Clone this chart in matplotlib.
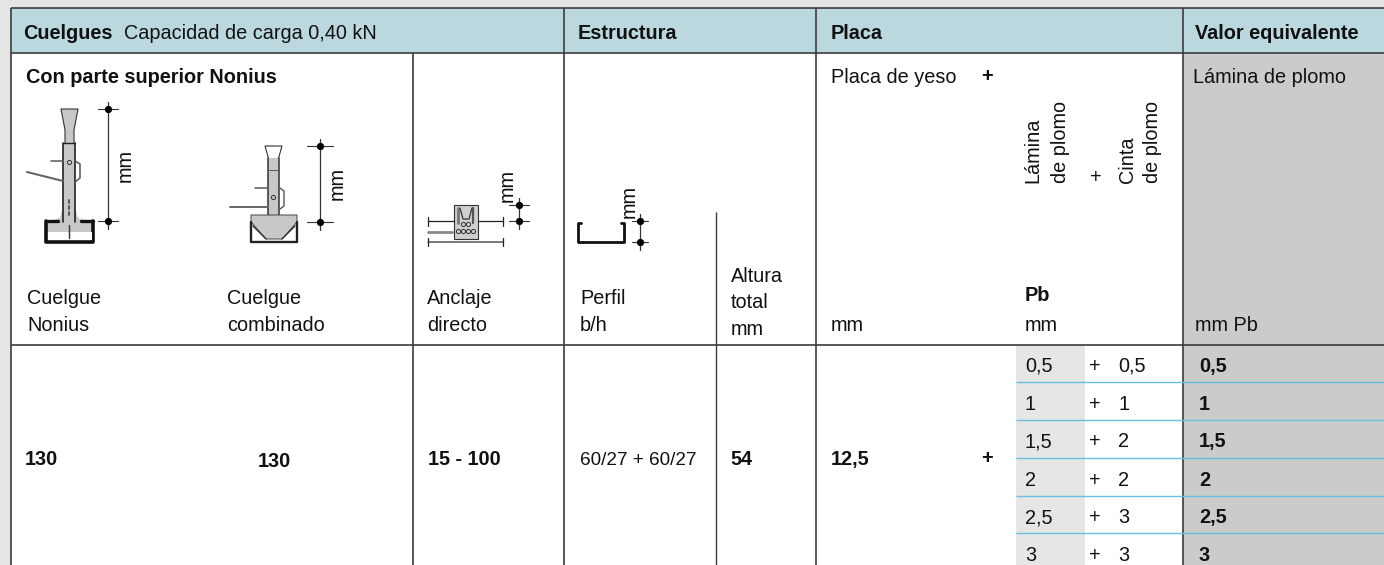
import matplotlib
matplotlib.use("Agg")
from matplotlib import pyplot as plt
from matplotlib.patches import Polygon, Rectangle

plt.rcParams['font.family'] = ['Liberation Sans', 'DejaVu Sans']

lamina = ["0,5", "1", "1,5", "2", "2,5", "3"]
cinta = ["0,5", "1", "2", "2", "3", "3"]
equivalente = ["0,5", "1", "1,5", "2", "2,5", "3"]
headers = ["Estructura", "Placa", "Valor equivalente"]
row_values = ["130", "130", "15 - 100", "60/27 + 60/27", "54", "12,5"]

LINE = "#3c3c3c"
FS = 14.3

fig = plt.figure(figsize=(13.84, 5.65), dpi=100, facecolor="#e5e5e5")
ax = fig.add_axes([0, 0, 1, 1])
ax.set_xlim(0, 1384)
ax.set_ylim(565, 0)
ax.axis("off")


def rect(x0, y0, x1, y1, color, z=1):
    ax.add_patch(Rectangle((x0, y0), x1 - x0, y1 - y0, fc=color, ec="none", zorder=z))


def hline(y, x0, x1, color=LINE, lw=1.2):
    ax.plot([x0, x1], [y, y], color=color, lw=lw, zorder=3, solid_capstyle="butt")


def vline(x, y0, y1, color=LINE, lw=1.2):
    ax.plot([x, x], [y0, y1], color=color, lw=lw, zorder=3, solid_capstyle="butt")


def txt(x, y, s, bold=False, rot=0, size=FS, **kw):
    kw.setdefault("ha", "left")
    kw.setdefault("va", "baseline")
    ax.text(x, y, s, fontweight="bold" if bold else "normal", rotation=rot, fontsize=size,
            color="#111111", zorder=5, **kw)


def line(xs, ys, lw=1.0, color="#222222", z=4):
    ax.plot(xs, ys, color=color, lw=lw, zorder=z, solid_capstyle="round")


def dim(x, y0, y1, tick=10):
    # cota vertical con dos puntos
    line([x, x], [y0 - 7, y1 + 8], 0.9, "#333333")
    for y in (y0, y1):
        line([x - tick, x + tick], [y, y], 0.8, "#333333")
        ax.plot([x], [y], "o", ms=4.2, color="black", zorder=5)


def holes(xs, y, ms=3.0):
    ax.plot(xs, [y] * len(xs), "o", ms=ms, mfc="none", mec="#333333", mew=0.7, zorder=5)


# fondos
rect(11, 8, 1384, 565, "white")
rect(11, 8, 1384, 53, "#bcd8df")
rect(1183, 53, 1384, 565, "#cbcbcb")
rect(1016, 345, 1085, 565, "#e6e6e6")

# lineas
hline(8, 11, 1384)
hline(53, 11, 1384)
hline(345, 11, 1384)
vline(11, 8, 565)
for x in (564, 816, 1183):
    vline(x, 8, 565)
vline(413, 53, 565)
vline(716, 212, 565, lw=1.0)
for y in (382, 420, 458, 496, 533):
    hline(y, 1016, 1384, "#66c2dc", 1.0)

# cabecera
txt(23, 39, "Cuelgues", bold=True)
txt(124, 39, "Capacidad de carga 0,40 kN")
txt(578, 39, headers[0], bold=True)
txt(831, 39, headers[1], bold=True)
txt(1195, 39, headers[2], bold=True)

txt(26, 83, "Con parte superior Nonius", bold=True)
txt(831, 83, "Placa de yeso")
txt(987, 82, "+", bold=True, ha="center")
txt(1193, 83, "Lámina de plomo")

# textos verticales
txt(1033, 183, "Lámina", rot=90, ha="center", va="bottom")
txt(1060, 183, "de plomo", rot=90, ha="center", va="bottom")
txt(1096, 183, "+", ha="center")
txt(1127, 183, "Cinta", rot=90, ha="center", va="bottom")
txt(1153, 183, "de plomo", rot=90, ha="center", va="bottom")
txt(125, 165, "mm", rot=90, ha="center", va="center")
txt(337, 184, "mm", rot=90, ha="center", va="center")
txt(507, 185, "mm", rot=90, ha="center", va="center")
txt(629, 201, "mm", rot=90, ha="center", va="center")

# etiquetas de columna
txt(27, 304, "Cuelgue")
txt(27, 331, "Nonius")
txt(227, 304, "Cuelgue")
txt(227, 331, "combinado")
txt(427, 304, "Anclaje")
txt(427, 331, "directo")
txt(580, 304, "Perfil")
txt(580, 331, "b/h")
txt(731, 282, "Altura")
txt(731, 308, "total")
txt(731, 335, "mm")
txt(831, 331, "mm")
txt(1025, 301, "Pb", bold=True)
txt(1025, 331, "mm")
txt(1195, 331, "mm Pb")

# fila de valores
for x, s, b, y in zip((25, 258, 428, 580, 730, 831), row_values, (1, 1, 1, 0, 1, 1), (465, 467, 465, 465, 465, 465)):
    txt(x, y, s, bold=bool(b), size=13.6 if not b else FS)
txt(987, 464, "+", bold=True, ha="center")
ys = [372, 410, 447, 486, 523, 561]
for y, a, c, e in zip(ys, lamina, cinta, equivalente):
    txt(1025, y, a)
    txt(1095, y, "+", ha="center")
    txt(1118, y, c)
    txt(1199, y, e, bold=True)

# dibujo cuelgue Nonius
ax.add_patch(Polygon([(61, 109), (78, 109), (74, 130), (74, 145), (65, 145), (65, 130)],
                     fc="#c8c8c8", ec="#333333", lw=0.8, zorder=4))
rect(63, 143, 75, 222, "#c8c8c8", 4)
line([63, 63], [143, 222], 1.2)
line([75, 75], [143, 222], 1.2)
line([63, 75], [143, 143])
ax.add_patch(Polygon([(63, 208), (75, 208), (78, 218), (92, 222), (92, 232), (47, 232), (47, 222), (60, 218)],
                     fc="#c8c8c8", ec="none", zorder=3.5))
line([69, 69], [200, 203], 1.4, "#555555")
line([69, 69], [206, 209], 1.4, "#555555")
line([69, 69], [212, 215], 1.4, "#555555")
holes([69], 162)
line([51, 63], [161, 161], 1.2, "#666666")
line([27, 63], [172, 181], 1.5, "#666666")
line([75, 80, 80, 75], [161, 164, 178, 182], 1.1, "#555555")
line([46, 46, 93, 93], [221, 242, 242, 221], 2.6, "#111111", 4.5)
line([46, 58], [221, 221], 2.4, "#111111", 4.5)
line([81, 93], [221, 221], 2.4, "#111111", 4.5)
rect(48, 232, 60, 240, "white", 5)
rect(79, 232, 92, 240, "white", 5)
line([69, 69], [225, 238], 1.0, "#333333")
dim(108, 109, 221)

# dibujo cuelgue combinado
ax.add_patch(Polygon([(265, 146), (282, 146), (278, 160), (269, 160)],
                     fc="white", ec="#333333", lw=0.8, zorder=4))
rect(268, 158, 279, 216, "#c8c8c8", 4)
line([268, 268], [158, 216], 1.1, "#333333")
line([279, 279], [158, 216], 1.1, "#333333")
line([269, 278], [170, 170], 0.7, "#555555")
holes([273], 197)
line([255, 268], [188, 188], 1.2, "#666666")
line([230, 268], [207, 207], 1.4, "#666666")
line([280, 284, 284, 280], [188, 191, 206, 209], 1.0, "#555555")
ax.add_patch(Polygon([(251, 215), (297, 215), (297, 222), (282, 239), (266, 239), (251, 222)],
                     fc="#c8c8c8", ec="#444444", lw=0.7, zorder=4))
line([251, 251, 297, 297], [222, 242, 242, 222], 1.7, "#222222")
line([253, 266], [226, 239], 1.0, "#333333")
line([295, 282], [226, 239], 1.0, "#333333")
dim(320, 146, 222, tick=13)

# dibujo anclaje directo
rect(454, 205, 478, 239, "#cfcfcf", 4)
ax.add_patch(Rectangle((454, 205), 24, 34, fc="none", ec="#333333", lw=0.8, zorder=4))
line([458, 458], [208, 223], 2.0, "#777777")
line([473, 473], [208, 223], 1.6, "#555555")
line([460, 463, 469, 472], [208, 219, 219, 208], 0.9, "#333333")
holes([463, 468], 224)
holes([458, 463, 468, 473], 231)
line([428, 454], [221, 221], 0.9)
line([478, 503], [221, 221], 0.9)
line([428, 428], [217, 226], 0.9)
line([503, 503], [217, 226], 0.9)
line([428, 452], [232, 232], 2.0, "#888888")
line([428, 503], [242, 242], 1.1, "#555555")
line([428, 428], [238, 246], 0.9)
line([503, 503], [238, 246], 0.9)
dim(519, 205, 221, tick=10)

# dibujo perfil
line([581, 578, 578, 624, 624, 621], [223, 223, 242, 242, 223, 223], 2.0, "#111111")
dim(640, 221, 242, tick=8)

fig.savefig("out.png", dpi=100, facecolor=fig.get_facecolor())
